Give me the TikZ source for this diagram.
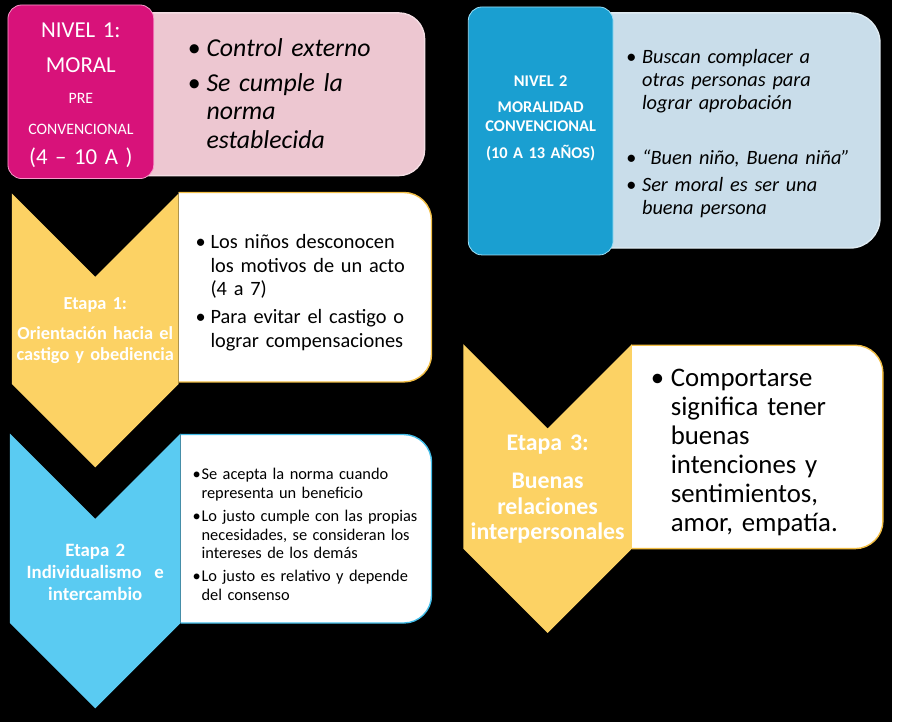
\documentclass[tikz,border=0pt]{standalone}
\usepackage{fontspec}
\setmainfont{Carlito}
\usepackage{xcolor}
\usepackage{tikz}

\definecolor{nivpink}{HTML}{F01F8A}
\definecolor{nivpinkd}{HTML}{D8127A}
\definecolor{pinklt}{HTML}{EDC7D1}
\definecolor{nivblue}{HTML}{22B8EA}
\definecolor{nivblued}{HTML}{1A9FD1}
\definecolor{bluelt}{HTML}{C9DDEA}
\definecolor{etyel}{HTML}{F2BE45}
\definecolor{etyelb}{HTML}{FCD264}
\definecolor{etcyan}{HTML}{43BDE9}
\definecolor{etcyanb}{HTML}{5ACBF2}

\newcommand\blt[1]{\par\noindent\hangindent=#1\hangafter=1\makebox[#1][l]{\textbullet}}

\begin{document}
\begin{tikzpicture}[x=1pt,y=-1pt,
  lvl/.style={rounded corners=14pt,inner sep=0pt,draw=white!55!#1,line width=0.8pt},
  infobox/.style={rounded corners=#1,line width=1.4pt},
  chev/.style={line join=miter},
  lbl/.style={text=white,align=center,inner sep=0pt},
  bullets/.style={anchor=west,align=left,inner sep=0pt,text width=250pt,execute at begin node=\setlength\parskip{#1}}]
\fill[black] (0,0) rectangle (899,728);
% nivel 1
\draw[infobox=26pt,fill=pinklt,draw=white!40!pinklt] (140,13) -- (428,13) -- (428,177) -- (140,177);
\node[lvl=nivpink,left color=nivpinkd,middle color=nivpink,right color=nivpinkd,minimum width=147pt,minimum height=175pt] (nivel1) at (81.5,92.5) {};
\node[lbl,text width=145pt,font=\fontsize{23}{31}\selectfont] (nivel1txt) at (81.5,96) {NIVEL 1:\\[5pt] MORAL\\ {\fontsize{16}{31}\selectfont PRE}\\ {\fontsize{16}{31}\selectfont CONVENCIONAL}\\ (4 – 10 A )};
\node[bullets=6pt,font=\itshape\fontsize{26}{29}\selectfont] (nivel1info) at (189,86) {\blt{19pt}Control externo\blt{19pt}Se cumple la\newline norma\newline establecida\par};
% nivel 2
\draw[infobox=30pt,fill=bluelt,draw=white!40!bluelt] (600,13) -- (887,13) -- (887,250) -- (600,250);
\node[lvl=nivblue,left color=nivblued,middle color=nivblue,right color=nivblued,minimum width=146pt,minimum height=250pt] (nivel2) at (545,132) {};
\node[lbl,text width=145pt,font=\bfseries\fontsize{16.5}{19.5}\selectfont] (nivel2txt) at (545,119) {NIVEL 2\\[7pt] MORALIDAD\\ CONVENCIONAL\\[7pt] (10 A 13 AÑOS)};
\node[bullets=4pt,font=\itshape\fontsize{20.5}{23.5}\selectfont] (nivel2info) at (631,128) {\blt{16pt}Buscan complacer a\newline otras personas para\newline lograr aprobación\par\vspace{27pt}\blt{16pt}“Buen niño, Buena niña”\blt{16pt}Ser moral es ser una\newline buena persona\par};
% etapa 1
\draw[infobox=28pt,fill=white,draw=etyel] (180,194) -- (435,194) -- (435,385) -- (180,385);
\fill[chev,left color=etyelb,middle color=etyel,right color=etyelb] (12,195) -- (96,279) -- (180,195) -- (180,387) -- (96,471) -- (12,387) -- cycle;
\node[lbl,text width=170pt,font=\bfseries\fontsize{18.5}{21}\selectfont] (etapa1) at (96,333) {Etapa 1:\\[9pt] Orientación hacia el\\ castigo y obediencia};
\node[bullets=5pt,font=\fontsize{20.5}{23.5}\selectfont] (etapa1info) at (197,288) {\blt{15pt}Los niños desconocen\newline los motivos de un acto\newline (4 a 7)\blt{15pt}Para evitar el castigo o\newline lograr compensaciones\par};
% etapa 2
\draw[infobox=28pt,fill=white,draw=etcyan] (182,438) -- (435,438) -- (435,628) -- (182,628);
\fill[chev,left color=etcyanb,middle color=etcyan,right color=etcyanb] (10,437) -- (96,523) -- (182,437) -- (182,628) -- (96,714) -- (10,628) -- cycle;
\node[lbl,text width=170pt,font=\bfseries\fontsize{19}{22}\selectfont] (etapa2) at (96,577) {Etapa 2\\ Individualismo\ \ e\\ intercambio};
\node[bullets=4pt,font=\fontsize{16.5}{19}\selectfont] (etapa2info) at (194,533) {\blt{9pt}Se acepta la norma cuando\newline representa un beneficio\blt{9pt}Lo justo cumple con las propias\newline necesidades, se consideran los\newline intereses de los demás\blt{9pt}Lo justo es relativo y depende\newline del consenso\par};
% etapa 3
\draw[infobox=28pt,fill=white,draw=etyel] (637,348) -- (890,348) -- (890,553) -- (637,553);
\fill[chev,left color=etyelb,middle color=etyel,right color=etyelb] (467,347) -- (552,432) -- (637,347) -- (637,553) -- (552,638) -- (467,553) -- cycle;
\node[lbl,text width=170pt,font=\bfseries\fontsize{24}{25.5}\selectfont] (etapa3) at (552,493) {Etapa 3:\\[13pt] Buenas\\ relaciones\\ interpersonales};
\node[bullets=0pt,font=\fontsize{27}{29.3}\selectfont] (etapa3info) at (656,450) {\blt{20pt}Comportarse\newline significa tener\newline buenas\newline intenciones y\newline sentimientos,\newline amor, empatía.\par};
\end{tikzpicture}
\end{document}
